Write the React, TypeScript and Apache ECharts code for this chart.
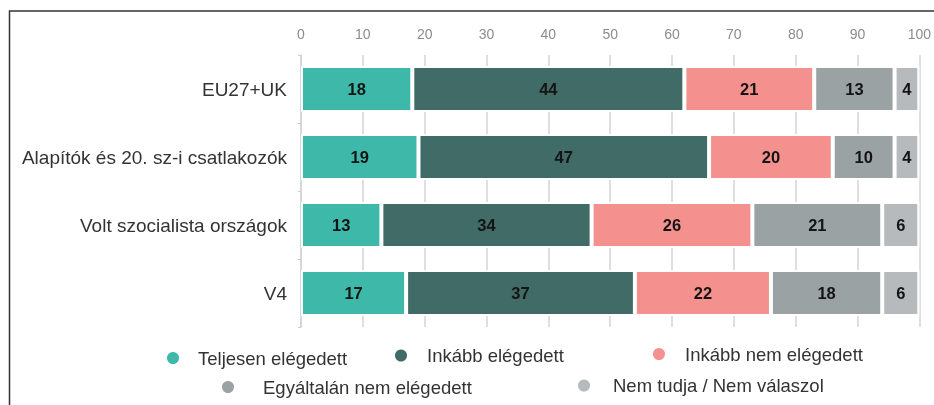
import React, { useEffect, useRef } from "react";
import * as echarts from "echarts";

const categories = [
  "EU27+UK",
  "Alapítók és 20. sz-i csatlakozók",
  "Volt szocialista országok",
  "V4",
];
const seriesNames = [
  "Teljesen elégedett",
  "Inkább elégedett",
  "Inkább nem elégedett",
  "Egyáltalán nem elégedett",
  "Nem tudja / Nem válaszol",
];
const teljesen = [18, 19, 13, 17];
const inkabb = [44, 47, 34, 37];
const inkabbNem = [21, 20, 26, 22];
const egyaltalan = [13, 10, 21, 18];
const nemTudja = [4, 4, 6, 6];
const colors = ["#3eb8a9", "#416b66", "#f4908d", "#9aa2a4", "#b6babd"];
const xTicks = [0, 10, 20, 30, 40, 50, 60, 70, 80, 90, 100];

const FONT = "Liberation Sans, Arial, sans-serif";

export default function App() {
  const ref = useRef<HTMLDivElement>(null);
  useEffect(() => {
    if (!ref.current) return;
    const chart = echarts.init(ref.current, undefined, { renderer: "svg" });
    const values = [teljesen, inkabb, inkabbNem, egyaltalan, nemTudja];
    const legendPos = [
      { left: 165, top: 348, pad: [0, 0, 6, 13] },
      { left: 393, top: 346, pad: [2, 0, 0, 14] },
      { left: 651, top: 344.5, pad: [0, 0, 3, 14] },
      { left: 220, top: 377.5, pad: [0, 0, 5, 23] },
      { left: 576, top: 376, pad: [4, 0, 0, 17] },
    ];
    chart.setOption({
      animation: false,
      textStyle: { fontFamily: FONT },
      grid: { left: 301, right: 12, top: 55, bottom: 78, containLabel: false },
      xAxis: {
        type: "value",
        position: "top",
        min: xTicks[0],
        max: xTicks[xTicks.length - 1],
        interval: 10,
        axisLine: { show: false },
        axisTick: { show: false },
        axisLabel: { color: "#8c8c8c", fontSize: 14, margin: 14, fontFamily: FONT },
        splitLine: { show: true, lineStyle: { color: "#d4d4d4", width: 1.5 } },
      },
      yAxis: {
        type: "category",
        inverse: true,
        data: categories,
        axisLine: { show: true, lineStyle: { color: "#d4d4d4", width: 1.5 } },
        axisTick: { show: true, length: 3, lineStyle: { color: "#cccccc" } },
        axisLabel: { color: "#333333", fontSize: 19, margin: 14, fontFamily: FONT },
      },
      legend: legendPos.map((p, i) => ({
        data: [seriesNames[i]],
        left: p.left,
        top: p.top,
        padding: 0,
        icon: "circle",
        itemWidth: 14,
        itemHeight: 14,
        textStyle: {
          color: "#333333",
          fontSize: 18.5,
          lineHeight: 14,
          fontFamily: FONT,
          padding: p.pad,
        },
      })),
      series: seriesNames.map((name, i) => ({
        name,
        type: "bar",
        stack: "total",
        barWidth: 46,
        data: values[i],
        itemStyle: { color: colors[i], borderColor: "#ffffff", borderWidth: 2 },
        label: {
          show: true,
          position: "inside",
          color: "#141414",
          fontSize: 16.5,
          fontWeight: "bold",
          fontFamily: FONT,
        },
      })),
      graphic: [
        {
          type: "rect",
          shape: { x: 9.5, y: 11, width: 1000, height: 500 },
          style: { fill: "none", stroke: "#333333", lineWidth: 1.5 },
          silent: true,
        },
      ],
    });
    return () => chart.dispose();
  }, []);
  return (
    <div
      ref={ref}
      style={{ position: "fixed", left: 0, top: 0, width: 934, height: 405 }}
    />
  );
}
